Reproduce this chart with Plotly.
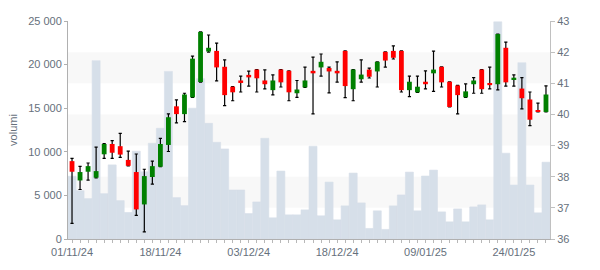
import plotly.graph_objects as go

dates = ["01/11/24","04/11/24","05/11/24","06/11/24","07/11/24","08/11/24",
         "11/11/24","12/11/24","13/11/24","14/11/24","15/11/24",
         "18/11/24","19/11/24","20/11/24","21/11/24","22/11/24",
         "25/11/24","26/11/24","27/11/24","28/11/24","29/11/24",
         "02/12/24","03/12/24","04/12/24","05/12/24","06/12/24",
         "09/12/24","10/12/24","11/12/24","12/12/24","13/12/24",
         "16/12/24","17/12/24","18/12/24","19/12/24","20/12/24",
         "23/12/24","27/12/24","30/12/24",
         "02/01/25","03/01/25","06/01/25","07/01/25","08/01/25","09/01/25",
         "10/01/25","13/01/25","14/01/25","15/01/25","16/01/25","17/01/25",
         "20/01/25","21/01/25","22/01/25","23/01/25","24/01/25",
         "27/01/25","28/01/25","29/01/25","30/01/25"]

open_ = [38.50,37.88,38.16,37.97,38.72,39.05,38.98,38.54,38.15,37.11,37.99,
         38.32,39.02,40.26,40.01,40.55,41.04,42.02,42.04,41.53,40.89,
         41.09,41.27,41.44,41.09,40.78,41.44,41.40,40.68,40.87,41.40,
         41.51,41.49,41.40,42.04,40.81,41.13,41.44,41.38,
         42.01,42.04,42.04,40.78,40.71,41.05,
         41.32,41.53,41.05,40.93,40.55,40.97,
         41.44,41.01,40.97,42.14,41.13,
         40.83,40.48,40.14,40.08]
high = [38.59,38.33,38.44,38.95,39.06,39.16,39.39,38.82,38.73,38.24,38.50,
        39.23,40.02,40.47,40.68,41.87,42.65,42.55,42.29,41.75,40.89,
        41.23,41.39,41.44,41.43,41.27,41.44,41.40,41.09,41.52,41.84,
        41.94,41.52,41.69,42.04,41.44,41.75,41.49,41.69,
        42.01,42.20,42.04,41.23,41.23,41.40,
        42.03,41.53,41.05,40.93,40.98,41.18,
        41.44,41.52,42.58,42.32,41.27,
        41.18,40.72,40.36,40.92]
low = [36.50,37.59,37.89,37.96,38.59,38.59,38.62,38.35,36.76,36.23,37.76,
       38.32,38.81,39.73,39.77,40.55,41.04,42.00,41.08,40.28,40.44,
       40.72,40.91,40.72,40.82,40.63,40.88,40.44,40.55,40.87,40.02,
       41.23,40.69,41.04,40.54,40.44,41.04,41.17,40.88,
       41.52,41.78,40.72,40.57,40.71,40.82,
       40.74,40.88,40.24,40.02,40.55,40.68,
       40.68,40.82,40.79,40.91,40.91,
       40.18,39.64,40.08,40.08]
close = [38.16,38.15,38.34,38.18,39.05,38.77,38.71,38.35,36.95,38.02,38.34,
         39.05,39.91,40.01,40.64,41.79,42.65,42.14,41.51,40.62,40.71,
         41.01,41.19,41.16,40.97,41.09,41.03,40.71,40.80,41.09,41.32,
         41.69,41.38,41.32,40.91,41.44,41.28,41.21,41.69,
         41.73,41.82,40.78,41.05,40.89,40.97,
         41.44,41.03,40.24,40.62,40.74,41.09,
         40.81,40.94,42.58,41.03,41.18,
         40.52,39.83,40.08,40.64]
volume = [7200,5540,4630,20450,5200,8500,4400,3040,10070,7710,10980,
          12690,19220,4750,3830,15000,18390,13260,11090,10330,5620,
          5620,2920,4250,11550,2430,7790,2770,2770,3340,10640,
          2660,6530,2200,3800,7560,4140,1210,3230,
          1100,3800,5050,7670,3230,7220,
          7900,3110,1970,3450,1970,3680,
          3910,2200,24900,9840,6190,
          20210,6190,3000,8810]

tick_labels = ["01/11/24","18/11/24","03/12/24","18/12/24","09/01/25","24/01/25"]

UP = "#008000"
DOWN = "#ff0000"
VOL = "#d6dfe9"
LBL = "#66707c"
FONT = "Liberation Sans, Arial, sans-serif"

body_base = [min(o, c) for o, c in zip(open_, close)]
body_h = [max(abs(c - o), 0.04) for o, c in zip(open_, close)]
body_col = [UP if c >= o else DOWN for o, c in zip(open_, close)]
mid = [(h + l) / 2 for h, l in zip(high, low)]
err_up = [h - m for h, m in zip(high, mid)]
err_dn = [m - l for m, l in zip(mid, low)]

fig = go.Figure()
fig.add_trace(go.Bar(x=dates, y=volume, width=1, marker=dict(color=VOL, line=dict(width=0.6, color=VOL)),
                     yaxis="y", hoverinfo="skip", showlegend=False))
fig.add_trace(go.Scatter(x=dates, y=mid, mode="markers", yaxis="y2",
                         marker=dict(size=1, color="rgba(0,0,0,0)"),
                         error_y=dict(type="data", symmetric=False, array=err_up, arrayminus=err_dn,
                                      color="#000000", thickness=1.2, width=1.6),
                         hoverinfo="skip", showlegend=False))
fig.add_trace(go.Bar(x=dates, y=body_h, base=body_base, width=0.6, yaxis="y3",
                     marker=dict(color=body_col, line=dict(width=0)),
                     hoverinfo="skip", showlegend=False))

# alternating bands on the price axis
for lo, hi in [(37, 38), (39, 40), (41, 42)]:
    fig.add_shape(type="rect", xref="paper", yref="y2", x0=0, x1=1, y0=lo, y1=hi,
                  fillcolor="#f8f8f8", line=dict(width=0), layer="below")

fig.update_layout(
    width=600, height=270,
    margin=dict(l=60, r=50, t=21, b=30),
    paper_bgcolor="white", plot_bgcolor="white",
    separators=", ",
    barmode="overlay",
    font=dict(family=FONT, size=11, color=LBL),
    xaxis=dict(type="category", categoryorder="array", categoryarray=dates,
               range=[-0.5, len(dates) - 0.5],
               tickmode="array", tickvals=dates,
               ticktext=[d if d in tick_labels else "" for d in dates],
               ticks="outside", ticklen=3, tickcolor="#b8b8b8", tickwidth=1,
               showline=True, linecolor="#b0b0b0", linewidth=1,
               showgrid=False, zeroline=False,
               tickfont=dict(size=11, color=LBL)),
    yaxis=dict(range=[0, 25000], tickvals=[0, 5000, 10000, 15000, 20000, 25000],
               tickformat=",", ticks="outside", ticklen=3, tickcolor="#b0b0b0",
               showline=True, linecolor="#b0b0b0", linewidth=1,
               showgrid=False, zeroline=False,
               title=dict(text="volumi", font=dict(size=11, color=LBL), standoff=8),
               tickfont=dict(size=11, color=LBL)),
    yaxis2=dict(range=[36, 43], overlaying="y", side="right", dtick=1,
                ticks="outside", ticklen=4, tickcolor="#c0c0c0",
                showline=True, linecolor="#c0c0c0", linewidth=1,
                showgrid=False, zeroline=False,
                tickfont=dict(size=11, color=LBL)),
    yaxis3=dict(range=[36, 43], overlaying="y", side="right", visible=False,
                showgrid=False, zeroline=False),
)

fig.write_html("out.html")
